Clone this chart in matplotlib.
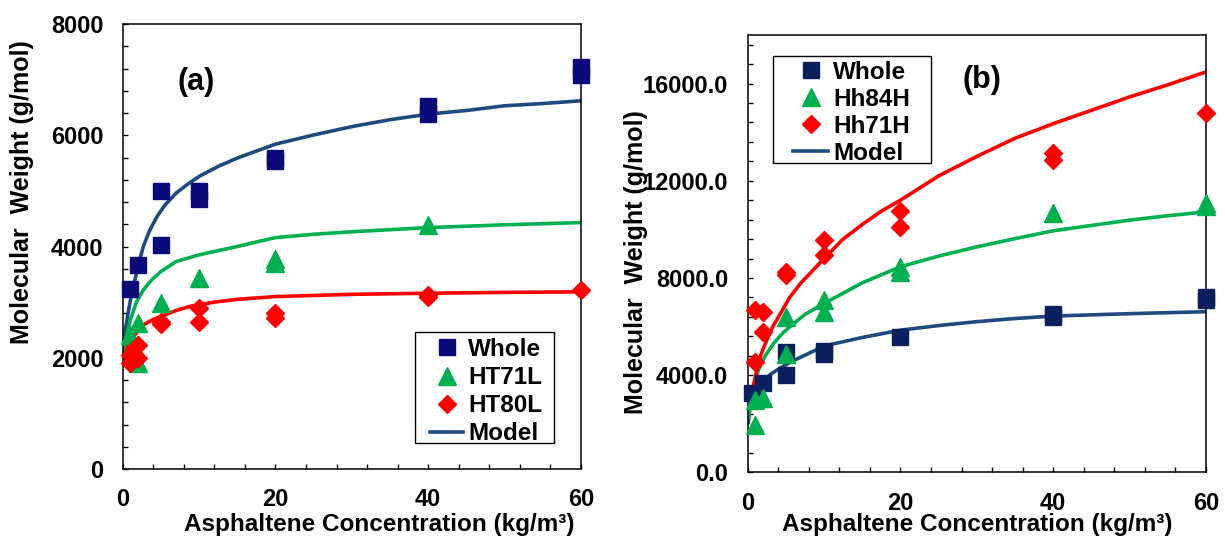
import matplotlib
matplotlib.use("Agg")
import matplotlib.pyplot as plt
from matplotlib.ticker import MultipleLocator, FormatStrFormatter
from matplotlib.lines import Line2D
from matplotlib.patches import Rectangle

plt.rcParams['font.family'] = ['Liberation Sans', 'DejaVu Sans']
plt.rcParams['font.weight'] = 'bold'

# ---------------- Panel (a) data ----------------
a_whole_x = [1, 2, 5, 5, 10, 10, 20, 20, 40, 40, 60, 60]
a_whole_y = [3240, 3660, 5000, 4020, 4990, 4860, 5600, 5540, 6530, 6380, 7230, 7080]
a_ht71l_x = [1, 2, 2, 5, 10, 20, 20, 40]
a_ht71l_y = [2410, 2620, 1900, 2980, 3430, 3780, 3700, 4390]
a_ht80l_x = [1, 1, 2, 2, 5, 5, 10, 10, 20, 20, 40, 40, 60]
a_ht80l_y = [1900, 2050, 2000, 2230, 2610, 2650, 2890, 2650, 2810, 2710, 3130, 3090, 3220]

a_model_whole_x = [0.1, 0.4, 0.7, 1.1, 1.6, 2.1, 2.7, 3.5, 4.5, 5.5, 7, 8.5, 10, 12.5,
                   15, 20, 25, 30, 35, 40, 45, 50, 55, 60]
a_model_whole_y = [2260, 2550, 2800, 3100, 3400, 3700, 4000, 4280, 4540, 4740, 4960, 5120,
                   5260, 5440, 5590, 5840, 6005, 6155, 6280, 6380, 6445, 6530, 6570, 6620]
a_model_ht71l_x = [0.1, 0.5, 1, 1.8, 2.7, 3.8, 5, 7, 10, 15, 20, 25, 30, 40, 50, 60]
a_model_ht71l_y = [2020, 2400, 2680, 3000, 3220, 3400, 3550, 3730, 3850, 4000, 4160, 4220,
                   4265, 4340, 4390, 4430]
a_model_ht80l_x = [0.1, 0.7, 1.4, 2.7, 4, 5, 7, 9, 12, 15, 20, 30, 40, 50, 60]
a_model_ht80l_y = [1960, 2220, 2380, 2590, 2690, 2740, 2850, 2930, 3000, 3050, 3100, 3140,
                   3160, 3175, 3185]

# ---------------- Panel (b) data ----------------
b_whole_x = [0.5, 2, 5, 5, 10, 10, 20, 40, 40, 60, 60]
b_whole_y = [3250, 3660, 4960, 4000, 5000, 4880, 5580, 6500, 6380, 7230, 7080]
b_hh84h_x = [1, 1, 2, 5, 5, 10, 10, 20, 20, 40, 60, 60]
b_hh84h_y = [1950, 2970, 3040, 4890, 6380, 6610, 7090, 8250, 8460, 10680, 11100, 10950]
b_hh71h_x = [1, 1, 2, 2, 5, 5, 10, 10, 20, 20, 40, 40, 60]
b_hh71h_y = [4550, 6700, 6610, 5780, 8250, 8120, 8940, 9550, 10760, 10100, 13160, 12870, 14770]

b_model_whole_x = [0.08, 0.3, 0.5, 1, 1.5, 2.3, 3.2, 4.3, 6, 7.7, 10, 15, 20, 25, 30, 35,
                   40, 50, 60]
b_model_whole_y = [2050, 2700, 3110, 3450, 3700, 3870, 4080, 4300, 4600, 4850, 5200, 5550,
                   5850, 6040, 6200, 6330, 6430, 6530, 6610]
b_model_hh84h_x = [0.08, 0.5, 1, 1.4, 2.3, 3.4, 4.5, 5.5, 7.5, 10, 15, 20, 25, 30, 35, 40,
                   45, 50, 55, 60]
b_model_hh84h_y = [2290, 3000, 3800, 4210, 4800, 5310, 5700, 5990, 6500, 6950, 7800, 8460,
                   8900, 9280, 9620, 9940, 10160, 10380, 10560, 10720]
b_model_hh71h_x = [0.3, 0.7, 1.2, 1.8, 2.5, 3.3, 4.3, 5.5, 6.9, 8.5, 10, 12.5, 15, 17.5, 20,
                   25, 30, 35, 40, 45, 50, 55, 60]
b_model_hh71h_y = [2700, 3500, 4210, 4900, 5440, 6000, 6540, 7200, 7770, 8300, 8800, 9600,
                   10200, 10750, 11200, 12200, 13000, 13750, 14350, 14900, 15450, 15950, 16480]

x_ticks = [0, 20, 40, 60]
a_y_ticks = [0, 2000, 4000, 6000, 8000]
b_y_ticks = [0, 4000, 8000, 12000, 16000]

NAVY_A = '#0a0a78'
NAVY_B = '#0b1f5e'
LINE_BLUE = '#1f4a7e'
GREEN = '#00b050'
RED = '#ff0000'

W, H = 1225, 537
fig = plt.figure(figsize=(W / 100, H / 100), dpi=100)


def px_axes(l, t, r, b):
    return fig.add_axes([l / W, 1 - b / H, (r - l) / W, (b - t) / H])


def style_axes(ax, yticks, ymax, ymin, fmt):
    ax.set_xlim(0, 60)
    ax.set_ylim(0, ymax)
    ax.set_xticks(x_ticks)
    ax.set_yticks(yticks)
    ax.xaxis.set_minor_locator(MultipleLocator(4))
    ax.yaxis.set_minor_locator(MultipleLocator(ymin))
    ax.yaxis.set_major_formatter(FormatStrFormatter(fmt))
    ax.tick_params(which='both', direction='in', length=3.8, width=1.0,
                   top=False, right=False, labelsize=17)
    ax.tick_params(axis='x', which='major', pad=14)
    ax.tick_params(axis='y', which='major', pad=14)
    for lab in ax.get_xticklabels() + ax.get_yticklabels():
        lab.set_fontweight('bold')
    for s in ax.spines.values():
        s.set_linewidth(1.1)
        s.set_color('black')


def px_text(x, y, s, **kw):
    fig.text(x / W, 1 - y / H, s, **kw)


def px_legend(ax, handles, labels, handle_left, first_row_center, hlen, spacing, box):
    leg = ax.legend(handles, labels, loc='upper left',
                    bbox_to_anchor=(handle_left / W, 1 - (first_row_center - 9) / H),
                    bbox_transform=fig.transFigure,
                    prop={'size': 17.5, 'weight': 'bold'}, frameon=False,
                    borderpad=0, labelspacing=spacing, handlelength=hlen,
                    handletextpad=0.2, borderaxespad=0)
    leg.set_zorder(7)
    l, t, r, b = box
    rect = Rectangle((l / W, 1 - b / H), (r - l) / W, (b - t) / H,
                     transform=fig.transFigure, facecolor='white',
                     edgecolor='black', linewidth=1.0, zorder=6, clip_on=False)
    ax.add_patch(rect)
    return leg


LW = 2.6
MS_S, MS_T, MS_D = 11, 12.5, 9.5

# ----- Panel (a) -----
axa = px_axes(122.7, 24, 581, 469)
axa.plot(a_model_whole_x, a_model_whole_y, color=LINE_BLUE, lw=LW, zorder=2)
axa.plot(a_model_ht71l_x, a_model_ht71l_y, color=GREEN, lw=LW, zorder=2)
axa.plot(a_model_ht80l_x, a_model_ht80l_y, color=RED, lw=LW, zorder=2)
axa.plot(a_whole_x, a_whole_y, 's', color=NAVY_A, ms=MS_S, zorder=3, clip_on=False)
axa.plot(a_ht71l_x, a_ht71l_y, '^', color=GREEN, ms=MS_T, zorder=3, clip_on=False)
axa.plot(a_ht80l_x, a_ht80l_y, 'D', color=RED, ms=MS_D, zorder=3, clip_on=False)
style_axes(axa, a_y_ticks, 8000, 400, '%d')

handles_a = [
    Line2D([], [], ls='none', marker='s', color=NAVY_A, ms=MS_S),
    Line2D([], [], ls='none', marker='^', color=GREEN, ms=MS_T),
    Line2D([], [], ls='none', marker='D', color=RED, ms=MS_D),
    Line2D([], [], color=LINE_BLUE, lw=LW),
]
px_legend(axa, handles_a, ['Whole', 'HT71L', 'HT80L', 'Model'],
          430, 347, 1.36, 0.21, (415, 331.7, 554, 442.7))

# ----- Panel (b) -----
axb = px_axes(747.7, 35, 1206, 472.3)
axb.plot(b_model_whole_x, b_model_whole_y, color=LINE_BLUE, lw=LW, zorder=2)
axb.plot(b_model_hh84h_x, b_model_hh84h_y, color=GREEN, lw=LW, zorder=2)
axb.plot(b_model_hh71h_x, b_model_hh71h_y, color=RED, lw=LW, zorder=2)
axb.plot(b_whole_x, b_whole_y, 's', color=NAVY_B, ms=MS_S, zorder=3, clip_on=False)
axb.plot(b_hh84h_x, b_hh84h_y, '^', color=GREEN, ms=MS_T, zorder=3, clip_on=False)
axb.plot(b_hh71h_x, b_hh71h_y, 'D', color=RED, ms=MS_D, zorder=3, clip_on=False)
style_axes(axb, b_y_ticks, 18000, 800, '%.1f')

handles_b = [
    Line2D([], [], ls='none', marker='s', color=NAVY_B, ms=MS_S),
    Line2D([], [], ls='none', marker='^', color=GREEN, ms=MS_T),
    Line2D([], [], ls='none', marker='D', color=RED, ms=MS_D),
    Line2D([], [], color=LINE_BLUE, lw=LW),
]
px_legend(axb, handles_b, ['Whole', 'Hh84H', 'Hh71H', 'Model'],
          793.3, 70, 1.44, 0.16, (773.3, 55.7, 931, 162.7))

# panel labels
px_text(196, 82, '(a)', fontsize=22, fontweight='bold', ha='center', va='center')
px_text(982, 80, '(b)', fontsize=22, fontweight='bold', ha='center', va='center')

# axis labels
xlabel = 'Asphaltene Concentration (kg/m\u00b3)'
ylabel = 'Molecular  Weight (g/mol)'
px_text(379, 524, xlabel, fontsize=17.5, fontweight='bold', ha='center', va='center')
px_text(977, 524, xlabel, fontsize=17.5, fontweight='bold', ha='center', va='center')
px_text(21.7, 192.5, ylabel, fontsize=18, fontweight='bold', ha='center', va='center',
        rotation=90)
px_text(636.5, 262, ylabel, fontsize=18, fontweight='bold', ha='center', va='center',
        rotation=90)

fig.savefig('out.png', dpi=100)
